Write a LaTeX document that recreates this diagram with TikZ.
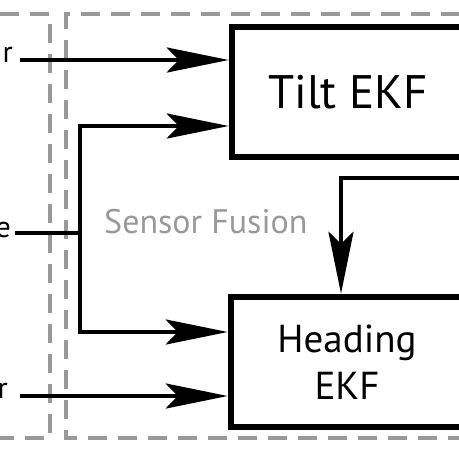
\documentclass[tikz,border=0pt]{standalone}
\usepackage{fontspec}
\setmainfont{PT Sans}
\usetikzlibrary{arrows.meta, positioning}

\begin{document}
\begin{tikzpicture}[x=1pt, y=-1pt, line join=miter,
    wire/.style={line width=4.5pt},
    flow/.style={wire, -{Stealth[length=62pt, width=25pt, inset=12pt]}},
    filterbox/.style={draw, line width=6.5pt, minimum width=232pt, minimum height=130pt, align=center, inner sep=0pt},
    fusionbox/.style={draw=black!40, line width=4.5pt, dash pattern=on 19pt off 11pt},
    sensorlabel/.style={font=\fontsize{30}{36}\selectfont, anchor=base east, inner sep=0pt}]
    \useasboundingbox (0,0) rectangle (459,459);

    % dashed frames
    \draw[fusionbox] (-30,14) -- (50,14) -- (50,438) -- (-30,438);
    \draw[fusionbox] (490,14) -- (66,14) -- (66,438) -- (490,438);
    \node[anchor=base west, inner sep=0pt, text=black!40, font=\fontsize{34}{40}\selectfont] (fusion) at (104,233) {Sensor Fusion};

    % filters
    \node[filterbox, font=\fontsize{47}{56}\selectfont] (tilt) at (348,92) {Tilt EKF};
    \node[filterbox, font=\fontsize{39}{47}\selectfont] (heading) at (347,362) {Heading\\EKF};

    % sensors, cut off at the left
    \node[sensorlabel] (acc) at (13,62) {r};
    \node[sensorlabel] (gyr) at (11,237) {e};
    \node[sensorlabel] (mag) at (8,398) {r};

    % inputs
    \coordinate (accout) at (20,60);
    \coordinate (gyrout) at (15,233);
    \coordinate (magout) at (20,396);
    \coordinate (split) at (80,233);
    \draw[flow] (accout) -- (accout -| tilt.west);
    \draw[wire] (gyrout) -- (split);
    \draw[flow] (split) |- ([yshift=-34pt]tilt.west);
    \draw[flow] (split) |- ([yshift=30pt]heading.west);
    \draw[flow] (magout) -- (magout -| heading.west);

    % tilt result into heading
    \coordinate (fbin) at (480,178);
    \draw[flow] (fbin) -| ([xshift=-6pt]heading.north);
\end{tikzpicture}
\end{document}
